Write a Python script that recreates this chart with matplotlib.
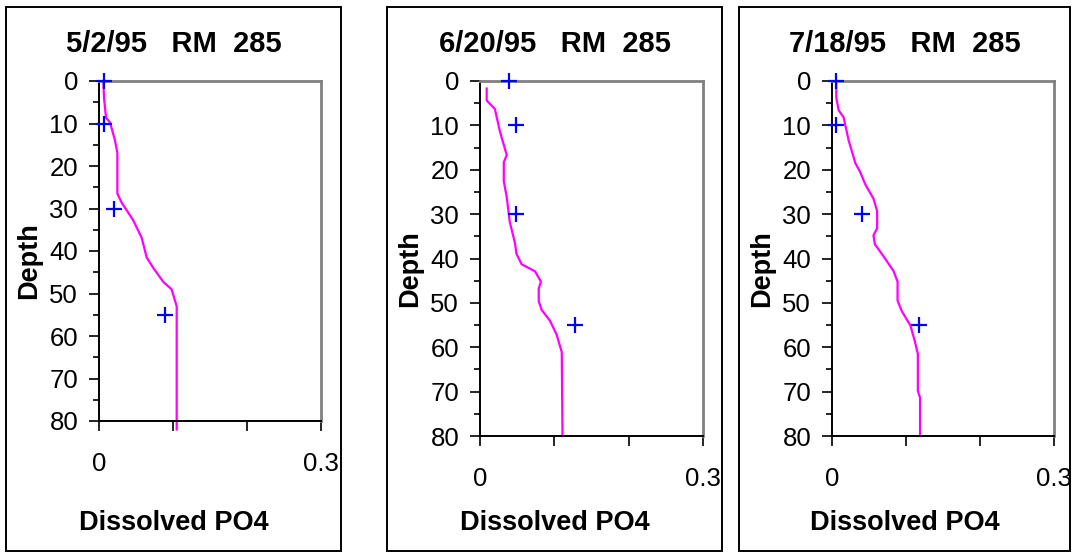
import numpy as np
import matplotlib.pyplot as plt
from matplotlib.patches import Rectangle
from matplotlib.ticker import MultipleLocator

plt.rcParams['font.family'] = ['Liberation Sans', 'DejaVu Sans']

titles = ["5/2/95   RM  285", "6/20/95   RM  285", "7/18/95   RM  285"]

# modelled profiles (PO4, depth)
line1_x = [0.0059, 0.0068, 0.0095, 0.015, 0.0216, 0.0248, 0.0248, 0.0306, 0.046, 0.0577,
           0.0644, 0.0734, 0.087, 0.098, 0.105, 0.105]
line1_y = [0, 4, 8.6, 9.8, 14, 16.9, 26.5, 28.6, 32.7, 36.9, 41.5, 44, 47.3, 49, 53, 82]

line2_x = [0.009, 0.009, 0.020, 0.027, 0.036, 0.032, 0.032, 0.036, 0.040, 0.047, 0.049,
           0.056, 0.074, 0.082, 0.079, 0.079, 0.083, 0.094, 0.103, 0.110, 0.111]
line2_y = [1.7, 4.4, 6.3, 11.5, 16.7, 18.3, 22.6, 26.2, 31.7, 36.5, 38.9, 41.3, 42.9,
           45.2, 46.8, 49.6, 51.6, 54, 57.1, 61.1, 80]

line3_x = [0.0058, 0.0058, 0.009, 0.0157, 0.0225, 0.0315, 0.038, 0.045, 0.056, 0.061,
           0.061, 0.056, 0.058, 0.070, 0.083, 0.0886, 0.0886, 0.0944, 0.106, 0.112,
           0.116, 0.116, 0.119, 0.119]
line3_y = [0.6, 3.8, 6.6, 8.2, 13.4, 18.5, 20.5, 23.3, 26.5, 29.3, 33.2, 34.8, 36.8,
           39.6, 42.8, 45.2, 49.5, 51.9, 55.1, 58.7, 61.5, 69.8, 71.4, 80]

# measured samples
obs_depth = [0, 10, 30, 55]
obs1 = [0.0068, 0.0068, 0.020, 0.089]
obs2 = [0.0395, 0.049, 0.0485, 0.128]
obs3 = [0.0058, 0.0058, 0.0405, 0.117]

lines = [(line1_x, line1_y), (line2_x, line2_y), (line3_x, line3_y)]
obs = [obs1, obs2, obs3]

W, H = 1074, 552
fig = plt.figure(figsize=(W / 100, H / 100), dpi=100)

# pixel layout: axes (left, top, right, bottom), frame (left, right), depth label y
ax_px = [(99, 81, 321, 421), (480, 81, 703, 436), (832, 81, 1054, 436)]
box_px = [(6, 341), (387, 722), (739, 1070)]
depth_y = [261, 269, 269]

for i in range(3):
    l, t, r, b = ax_px[i]
    ax = fig.add_axes([l / W, 1 - b / H, (r - l) / W, (b - t) / H])
    lx, ly = lines[i]
    ax.plot(lx, ly, color='#FF00FF', lw=1.6, clip_on=False, zorder=2)
    ax.plot(obs[i], obs_depth, '+', color='#0000FF', ms=12, mew=1.6,
            clip_on=False, zorder=3)
    ax.set_xlim(0, 0.3)
    ax.set_ylim(80, 0)
    ax.set_xticks([0, 0.1, 0.2, 0.3])
    ax.set_xticklabels(['0', '', '', '0.3'])
    ax.yaxis.set_major_locator(MultipleLocator(10))
    ax.yaxis.set_minor_locator(MultipleLocator(5))
    ax.tick_params(axis='x', direction='out', length=7, width=1.2, pad=15,
                   labelsize=18.5)
    ax.tick_params(axis='y', which='major', direction='out', length=7, width=1.2,
                   pad=8, labelsize=18.5)
    ax.tick_params(axis='y', which='minor', direction='out', length=4, width=1.2)
    for s in ['left', 'bottom']:
        ax.spines[s].set_color('black')
        ax.spines[s].set_linewidth(1.4)
    for s in ['top', 'right']:
        ax.spines[s].set_color('#808080')
        ax.spines[s].set_linewidth(2)

    bl, br = box_px[i]
    fig.patches.append(Rectangle((bl / W, 1 - 551 / H), (br - bl) / W, (551 - 7) / H,
                                 transform=fig.transFigure, fill=False,
                                 edgecolor='black', lw=1.4))
    cx = (bl + br) / 2 / W
    fig.text(cx, 1 - 44 / H, titles[i], ha='center', va='center', fontsize=21,
             fontweight='bold')
    fig.text(cx, 1 - 523 / H, 'Dissolved PO4', ha='center', va='center',
             fontsize=19.5, fontweight='bold')
    fig.text((bl + 23) / W, 1 - depth_y[i] / H, 'Depth', rotation=90,
             ha='center', va='center', fontsize=19.5, fontweight='bold')

fig.savefig('out.png', dpi=100)
